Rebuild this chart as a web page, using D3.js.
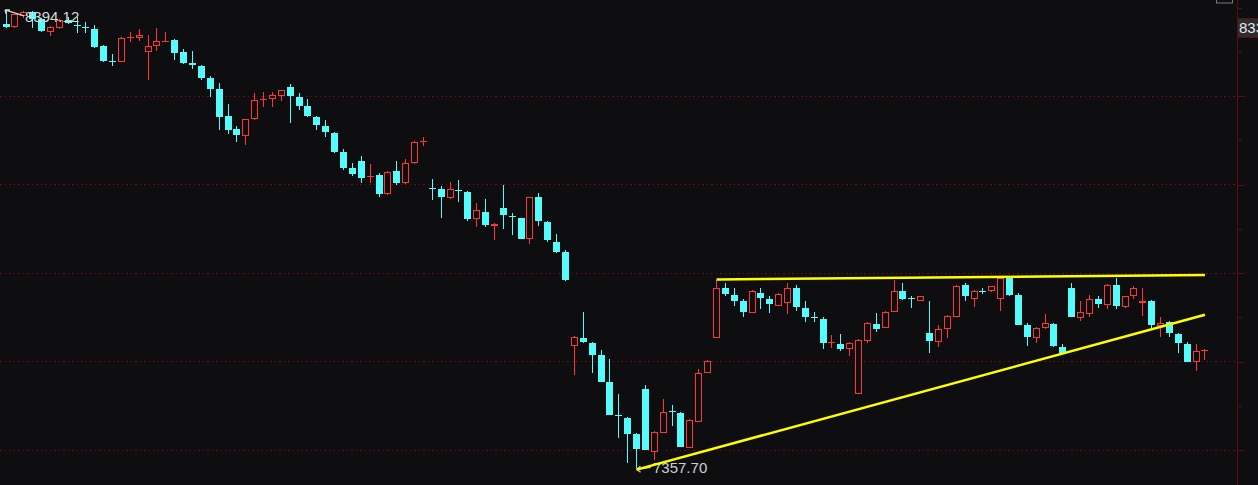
<!DOCTYPE html>
<html>
<head>
<meta charset="utf-8">
<script src="https://cdn.jsdelivr.net/npm/d3@7"></script>
<style>
  html, body { margin: 0; padding: 0; background: #0e0e11; overflow: hidden; }
  svg { display: block; }
</style>
</head>
<body>
<div id="chart"></div>
<script>
// ---------------- data ----------------
const days = d3.range(136); // trading-day index (no date labels shown in the chart)

const open = [8362.0, 8354.5, 8379.3, 8388.4, 8372.6, 8343.2, 8352.2, 8370.3, 8360.1, 8354.5,
 8349.9, 8311.5, 8278.7, 8275.3, 8330.7, 8329.6, 8297.9, 8311.5, 8321.7, 8325.1,
 8297.9, 8273.0, 8266.3, 8239.1, 8214.2, 8153.2, 8123.7, 8107.9, 8146.4, 8190.5,
 8191.6, 8198.4, 8218.8, 8196.1, 8175.8, 8150.9, 8130.5, 8114.7, 8071.7, 8035.6,
 8051.4, 8016.3, 8019.7, 7976.8, 8028.8, 8001.6, 8046.9, 8095.5, 7991.4, 7988.0,
 7967.7, 7986.9, 7981.3, 7920.2, 7936.0, 7904.4, 7945.1, 7928.1, 7922.5, 7877.2,
 7970.0, 7913.4, 7870.4, 7845.6, 7635.2, 7653.3, 7642.0, 7614.8, 7553.8, 7478.0,
 7472.4, 7436.2, 7538.0, 7395.5, 7438.4, 7487.1, 7483.7, 7404.5, 7463.3, 7574.1,
 7653.3, 7764.2, 7750.6, 7734.8, 7709.9, 7755.1, 7741.5, 7725.7, 7732.5, 7766.4,
 7721.2, 7699.7, 7696.3, 7640.9, 7639.7, 7628.4, 7526.6, 7646.5, 7685.0, 7675.9,
 7712.1, 7757.4, 7742.7, 7737.0, 7664.6, 7644.2, 7673.7, 7700.8, 7773.2, 7741.5,
 7758.5, 7757.4, 7741.5, 7789.0, 7750.6, 7682.7, 7653.3, 7675.9, 7685.0, 7632.9,
 7766.4, 7698.5, 7707.6, 7741.5, 7728.0, 7773.2, 7723.4, 7746.1, 7732.5, 7737.0,
 7680.4, 7689.5, 7662.4, 7639.7, 7599.0, 7625.0];

const high = [8394.12, 8384.5, 8390.7, 8390.7, 8374.8, 8356.7, 8372.6, 8377.1, 8377.1, 8365.8,
 8359.0, 8313.8, 8293.4, 8331.9, 8343.2, 8349.9, 8336.4, 8352.2, 8343.2, 8327.3,
 8304.7, 8300.2, 8268.5, 8243.6, 8227.8, 8180.3, 8130.5, 8147.0, 8205.2, 8207.5,
 8207.5, 8212.5, 8225.5, 8205.2, 8191.6, 8153.2, 8144.1, 8117.0, 8078.5, 8046.9,
 8062.7, 8044.6, 8024.2, 8028.8, 8051.4, 8055.9, 8096.6, 8105.7, 8010.7, 7994.8,
 8003.9, 8008.4, 7983.5, 7956.4, 7965.4, 7911.2, 7997.1, 7933.8, 7923.5, 7971.0,
 7979.0, 7915.7, 7886.3, 7850.1, 7657.8, 7712.1, 7643.0, 7626.2, 7605.8, 7526.6,
 7473.5, 7437.3, 7547.0, 7441.8, 7515.3, 7501.7, 7486.0, 7468.9, 7583.2, 7603.5,
 7782.3, 7777.7, 7766.4, 7741.5, 7761.9, 7764.2, 7746.1, 7755.1, 7775.5, 7773.2,
 7734.8, 7712.1, 7700.8, 7660.1, 7662.4, 7643.0, 7649.9, 7688.3, 7709.9, 7713.2,
 7784.5, 7777.7, 7748.3, 7747.0, 7734.8, 7682.7, 7704.2, 7772.0, 7775.5, 7760.7,
 7766.4, 7769.8, 7791.3, 7791.3, 7755.1, 7687.2, 7678.2, 7707.6, 7687.2, 7639.7,
 7775.5, 7734.8, 7750.6, 7746.1, 7774.3, 7786.8, 7747.2, 7768.7, 7764.2, 7738.1,
 7700.8, 7690.6, 7663.5, 7644.2, 7639.7, 7628.4];

const low = [8353.0, 8352.2, 8374.8, 8352.2, 8343.2, 8334.1, 8351.5, 8362.4, 8340.9, 8340.9,
 8307.0, 8275.3, 8266.3, 8275.3, 8320.5, 8322.8, 8234.6, 8300.2, 8320.5, 8279.8,
 8270.8, 8259.5, 8234.6, 8196.1, 8121.5, 8112.5, 8094.4, 8087.6, 8145.5, 8173.5,
 8173.5, 8187.1, 8137.3, 8166.7, 8152.0, 8121.5, 8105.7, 8069.5, 8031.0, 8017.5,
 8001.6, 8001.6, 7970.0, 7975.5, 7997.1, 8000.5, 8045.8, 8085.3, 7963.2, 7922.5,
 7965.4, 7958.7, 7917.9, 7902.1, 7902.1, 7872.7, 7899.8, 7884.0, 7876.0, 7865.9,
 7904.4, 7870.4, 7843.3, 7780.0, 7569.6, 7642.0, 7574.1, 7552.5, 7478.0, 7427.1,
 7370.6, 7357.70, 7399.0, 7377.4, 7437.3, 7454.3, 7405.7, 7403.4, 7462.2, 7573.0,
 7652.2, 7746.1, 7725.7, 7700.8, 7708.8, 7718.9, 7709.9, 7724.6, 7707.6, 7714.4,
 7689.5, 7689.5, 7628.4, 7630.7, 7623.9, 7612.6, 7525.5, 7642.0, 7666.9, 7674.8,
 7711.0, 7739.3, 7721.2, 7736.0, 7619.4, 7632.9, 7653.3, 7699.7, 7734.8, 7723.4,
 7752.8, 7756.3, 7714.4, 7748.3, 7681.6, 7635.2, 7642.0, 7673.7, 7632.9, 7618.3,
 7699.7, 7691.8, 7700.8, 7721.2, 7718.9, 7718.9, 7721.2, 7741.5, 7703.1, 7675.9,
 7655.6, 7655.6, 7619.4, 7597.9, 7578.7, 7603.5];

const close = [8355.6, 8383.9, 8388.4, 8372.6, 8345.4, 8354.5, 8370.3, 8363.5, 8357.9, 8352.2,
 8309.2, 8277.6, 8276.4, 8329.6, 8331.9, 8336.4, 8311.5, 8322.8, 8323.9, 8295.7,
 8273.0, 8268.5, 8239.1, 8214.2, 8150.9, 8121.5, 8110.2, 8146.4, 8189.4, 8192.7,
 8200.7, 8212.0, 8198.4, 8175.8, 8153.2, 8132.8, 8117.0, 8071.7, 8035.6, 8022.0,
 8012.9, 8018.6, 7976.8, 8026.5, 8001.6, 8046.9, 8094.4, 8097.8, 7989.2, 7970.0,
 7988.0, 7984.7, 7920.2, 7940.6, 7906.6, 7908.9, 7929.3, 7925.9, 7877.2, 7970.0,
 7915.7, 7872.7, 7847.8, 7784.5, 7655.6, 7644.2, 7614.8, 7553.8, 7479.2, 7475.8,
 7436.2, 7402.3, 7400.0, 7440.7, 7486.0, 7484.8, 7406.8, 7467.8, 7574.1, 7601.3,
 7764.2, 7752.8, 7737.0, 7712.1, 7757.4, 7743.8, 7730.2, 7752.8, 7766.4, 7723.4,
 7700.8, 7697.4, 7642.0, 7643.1, 7628.4, 7642.0, 7648.8, 7687.2, 7673.7, 7712.1,
 7757.4, 7741.5, 7740.4, 7746.1, 7646.5, 7673.7, 7703.1, 7770.9, 7746.1, 7759.6,
 7756.2, 7768.7, 7789.0, 7750.6, 7682.7, 7655.6, 7675.9, 7687.2, 7635.2, 7619.4,
 7700.8, 7712.1, 7741.5, 7730.2, 7773.2, 7725.7, 7746.1, 7764.2, 7737.0, 7682.7,
 7687.2, 7664.6, 7642.0, 7599.0, 7623.9, 7626.2];

// price levels
const gridLevels = [8200, 8000, 7800, 7600, 7400];
const minorTicks = [8400, 8300, 8100, 7900, 7700, 7500, 7300];
const maxLabel = "8394.12";
const minLabel = "7357.70";
const axisTag = "8333.30";

// trend lines (drawn annotation): [dayIndex, price]
const resistance = [[80, 7784.5], [135, 7794.7]];
const support = [[71, 7354.8], [135, 7704.7]];

// ---------------- drawing ----------------
const W = 1258, H = 485;
const BG = "#0e0e11", CYAN = "#54fcfc", RED = "#ff3434", YELLOW = "#ffff00";
const GRID = "#6e1010", AXIS = "#5e0c0c";

const svg = d3.select("#chart").append("svg").attr("width", W).attr("height", H);
svg.append("rect").attr("width", W).attr("height", H).attr("fill", BG);

const x = d3.scaleBand().domain(days).range([1.56, 1209.4]);
const cx = i => x(i) + x.bandwidth() / 2;
const y = d3.scaleLinear().domain([7357.70, 8394.12]).range([468.3, 9.85]);

// grid lines
svg.append("g").selectAll("line").data(gridLevels).join("line")
  .attr("x1", 0).attr("x2", 1237)
  .attr("y1", d => Math.round(y(d)) + 0.5).attr("y2", d => Math.round(y(d)) + 0.5)
  .attr("stroke", GRID).attr("stroke-width", 1)
  .attr("stroke-dasharray", "1.5,3")
  .attr("shape-rendering", "crispEdges");

// right axis
svg.append("line").attr("x1", 1237.5).attr("x2", 1237.5).attr("y1", 0).attr("y2", H)
  .attr("stroke", AXIS).attr("stroke-width", 1);
const majorAxis = svg.append("g").attr("transform", "translate(1237.5,0.5)")
  .call(d3.axisRight(y).tickValues(gridLevels).tickSize(7).tickSizeOuter(0).tickFormat(() => ""));
const minorAxis = svg.append("g").attr("transform", "translate(1237.5,0.5)")
  .call(d3.axisRight(y).tickValues(minorTicks).tickSize(4).tickSizeOuter(0).tickFormat(() => ""));
[majorAxis, minorAxis].forEach(a => {
  a.select(".domain").remove();
  a.selectAll(".tick line").attr("stroke", AXIS).attr("shape-rendering", "crispEdges");
});

// axis tag box (price tag at right edge, clipped by window as in the original)
svg.append("rect").attr("x", 1237.5).attr("y", 18.5).attr("width", 30).attr("height", 19)
  .attr("fill", "#2c2c31").attr("stroke", AXIS);
svg.append("text").attr("x", 1239).attr("y", 33).text(axisTag)
  .attr("fill", "#e8e8e8").attr("font-family", "Liberation Sans, Arial, sans-serif").attr("font-size", 15);

// small icon box top-right
svg.append("rect").attr("x", 1216.5).attr("y", -8).attr("width", 16).attr("height", 11)
  .attr("fill", "none").attr("stroke", "#7a7a7a");

// candles
const data = days.map(i => ({ i, o: open[i], h: high[i], l: low[i], c: close[i] }));
const cg = svg.append("g").attr("shape-rendering", "crispEdges");
data.forEach(d => {
  const xc = Math.floor(cx(d.i));
  const up = d.c > d.o;
  const col = up ? RED : CYAN;
  const yt = Math.round(y(Math.max(d.o, d.c)));
  const yb = Math.round(y(Math.min(d.o, d.c)));
  const yh = Math.round(y(d.h));
  const yl = Math.round(y(d.l));
  const bh = yb - yt;
  // wick
  if (yl > yh) cg.append("rect").attr("x", xc).attr("y", yh).attr("width", 1).attr("height", yl - yh).attr("fill", col);
  if (up && bh >= 3) {
    // hollow up candle: outer red, inner background
    cg.append("rect").attr("x", xc - 3).attr("y", yt).attr("width", 7).attr("height", bh).attr("fill", col);
    cg.append("rect").attr("x", xc - 2).attr("y", yt + 1).attr("width", 5).attr("height", bh - 2).attr("fill", BG);
  } else {
    cg.append("rect").attr("x", xc - 3).attr("y", yt).attr("width", 7).attr("height", Math.max(1, bh))
      .attr("fill", col);
  }
});

// extreme labels with arrows
const FONT = "Liberation Sans, Arial, sans-serif";
const hiX = cx(0), hiY = y(high[0]);
svg.append("path")
  .attr("d", `M${hiX - 1},${hiY} L${hiX + 18},${hiY + 6} M${hiX - 1},${hiY} l5,0 M${hiX - 1},${hiY} l1,4`)
  .attr("stroke", "#d8d8d8").attr("stroke-width", 1.2).attr("fill", "none");
svg.append("text").attr("x", 25).attr("y", 21.5).text(maxLabel)
  .attr("fill", "#d8d8d8").attr("font-family", FONT).attr("font-size", 15);

const loX = cx(71), loY = y(low[71]);
svg.append("path")
  .attr("d", `M${loX},${loY + 1} L${loX + 14},${loY - 1} M${loX},${loY + 1} l4,-3 M${loX},${loY + 1} l4,3`)
  .attr("stroke", "#d0d0d0").attr("stroke-width", 1.2).attr("fill", "none");
svg.append("text").attr("x", 653).attr("y", 473).text(minLabel)
  .attr("fill", "#cfcfcf").attr("font-family", FONT).attr("font-size", 15);

// trend lines
const line = d3.line().x(d => cx(d[0])).y(d => y(d[1]));
[resistance, support].forEach(seg => {
  svg.append("path").attr("d", line(seg)).attr("fill", "none")
    .attr("stroke", YELLOW).attr("stroke-width", 2.5);
});
</script>
</body>
</html>
